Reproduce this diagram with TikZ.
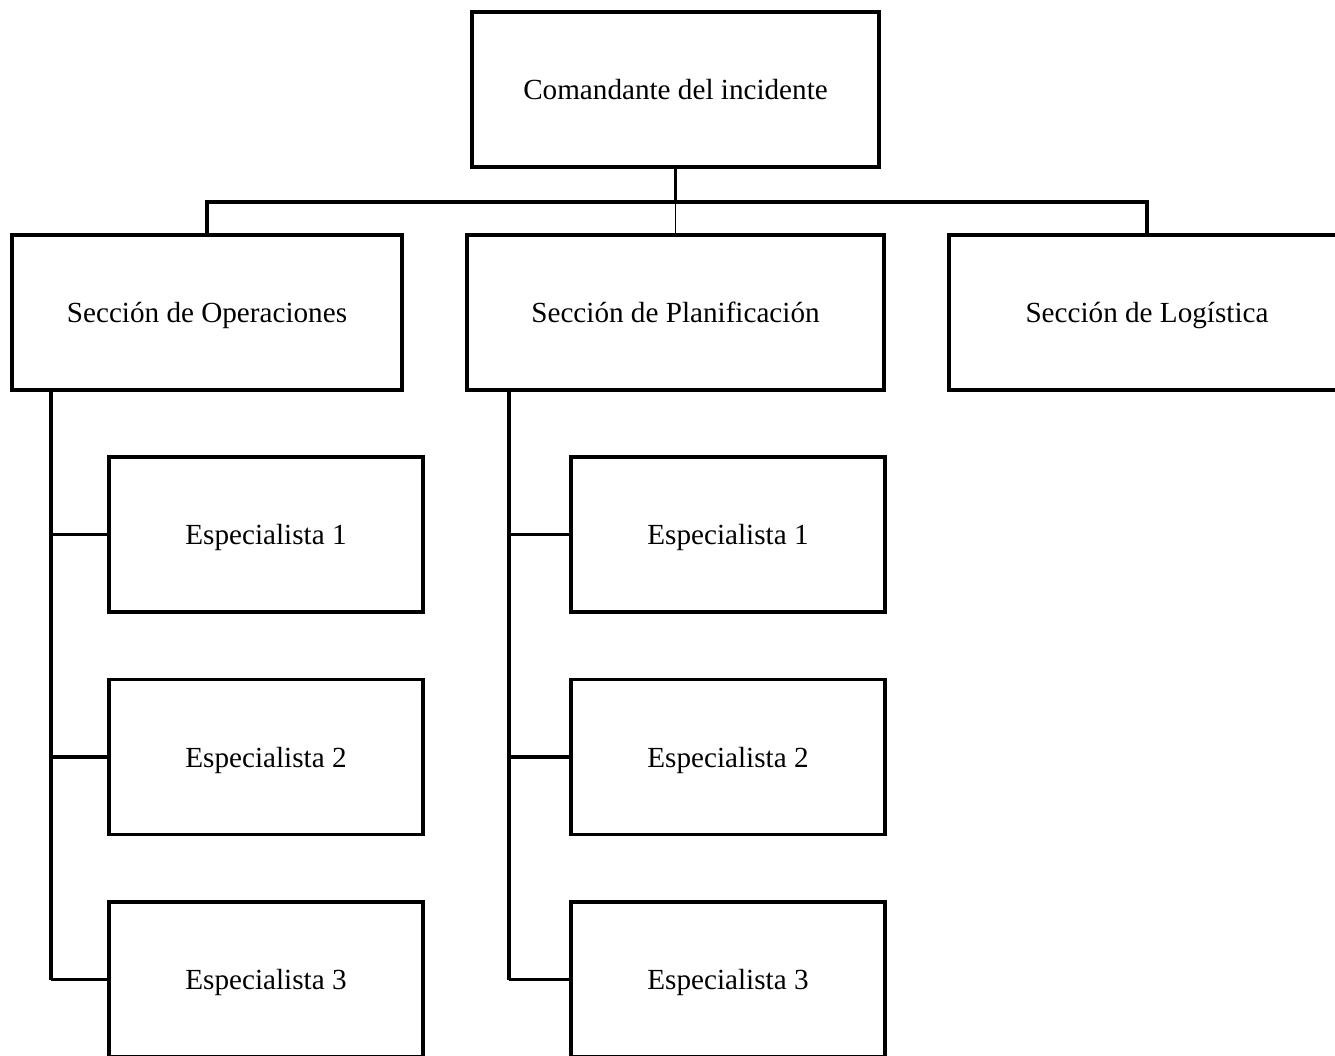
\documentclass[tikz,border=0pt]{standalone}
\usepackage{fontspec}
\setmainfont{Liberation Serif}
\usetikzlibrary{positioning,calc}

\tikzset{
  box/.style={draw,line width=1.9pt,minimum height=3.1cm,inner sep=0pt,
              text height=12pt,text depth=0.6pt,
              font=\fontsize{16.6}{20}\selectfont},
  conn/.style={line width=1.9pt},
  thinconn/.style={line width=0.9pt}
}

\begin{document}
\begin{tikzpicture}[x=0.02cm,y=-0.02cm]
  \clip (0,0) rectangle (1335,1055);
  \fill[white] (0,0) rectangle (1335,1055);
  % ---- top level
  \node[box,minimum width=8.14cm] (cmd) at (675.5,89.5) {Comandante del incidente};
  % ---- sections
  \node[box,minimum width=7.8cm]  (ops)  at (207,312.5)    {Sección de Operaciones};
  \node[box,minimum width=8.34cm] (plan) at (675.5,312.5)  {Sección de Planificación};
  \node[box,minimum width=7.92cm] (log)  at (1147,312.5)   {Sección de Logística};
  \coordinate (bus) at (675.5,202);
  \draw[conn] (cmd.south) -- (bus);
  \draw[conn] (ops.north) |- (bus) -| (log.north);
  \draw[thinconn] (bus) -- (plan.north);
  % ---- specialists
  \coordinate (opsTrunk)  at (51,390);
  \coordinate (planTrunk) at (509,390);
  \foreach \i/\y in {1/534.5,2/757,3/979.5}{
    \node[box,minimum width=6.28cm] (ops\i)  at (266,\y) {Especialista \i};
    \node[box,minimum width=6.28cm] (plan\i) at (728,\y) {Especialista \i};
    \draw[conn] (opsTrunk |- ops\i.west) -- (ops\i.west);
    \draw[conn] (planTrunk |- plan\i.west) -- (plan\i.west);
  }
  \draw[conn] (opsTrunk) -- (opsTrunk |- ops3.west);
  \draw[conn] (planTrunk) -- (planTrunk |- plan3.west);
\end{tikzpicture}
\end{document}
